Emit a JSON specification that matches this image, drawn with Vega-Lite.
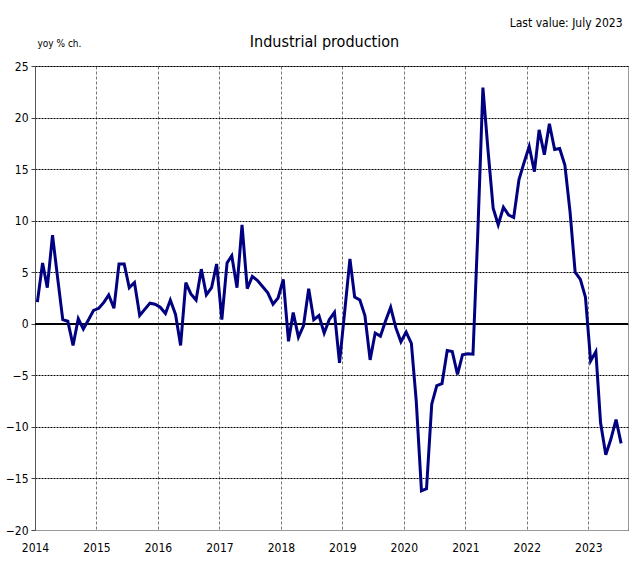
{
  "$schema": "https://vega.github.io/schema/vega-lite/v6.json",
  "width": 593,
  "height": 464,
  "autosize": {"type": "none"},
  "padding": {"left": 35, "top": 66, "right": 4, "bottom": 32},
  "background": "white",
  "title": {
    "text": "Industrial production",
    "font": "DejaVu Sans Condensed",
    "fontSize": 16,
    "fontWeight": "normal",
    "color": "#000",
    "anchor": "middle",
    "dx": -7,
    "offset": 0,
    "dy": 34
  },
  "config": {
    "view": {"stroke": "#999", "strokeWidth": 1},
    "font": "DejaVu Sans Condensed"
  },
  "data": {
    "values": [
      {"date": "2014-01-15", "value": 2.1}, {"date": "2014-02-15", "value": 5.9}, {"date": "2014-03-15", "value": 3.5}, {"date": "2014-04-15", "value": 8.6}, {"date": "2014-05-15", "value": 4.5}, {"date": "2014-06-15", "value": 0.4}, {"date": "2014-07-15", "value": 0.25}, {"date": "2014-08-15", "value": -2.1}, {"date": "2014-09-15", "value": 0.5}, {"date": "2014-10-15", "value": -0.5}, {"date": "2014-11-15", "value": 0.4}, {"date": "2014-12-15", "value": 1.3},
      {"date": "2015-01-15", "value": 1.5}, {"date": "2015-02-15", "value": 2.1}, {"date": "2015-03-15", "value": 2.8}, {"date": "2015-04-15", "value": 1.5}, {"date": "2015-05-15", "value": 5.8}, {"date": "2015-06-15", "value": 5.8}, {"date": "2015-07-15", "value": 3.5}, {"date": "2015-08-15", "value": 4.0}, {"date": "2015-09-15", "value": 0.8}, {"date": "2015-10-15", "value": 1.4}, {"date": "2015-11-15", "value": 2.0}, {"date": "2015-12-15", "value": 1.9},
      {"date": "2016-01-15", "value": 1.6}, {"date": "2016-02-15", "value": 1.0}, {"date": "2016-03-15", "value": 2.3}, {"date": "2016-04-15", "value": 0.9}, {"date": "2016-05-15", "value": -2.1}, {"date": "2016-06-15", "value": 4.0}, {"date": "2016-07-15", "value": 2.9}, {"date": "2016-08-15", "value": 2.3}, {"date": "2016-09-15", "value": 5.3}, {"date": "2016-10-15", "value": 2.8}, {"date": "2016-11-15", "value": 3.5}, {"date": "2016-12-15", "value": 5.8},
      {"date": "2017-01-15", "value": 0.4}, {"date": "2017-02-15", "value": 5.9}, {"date": "2017-03-15", "value": 6.6}, {"date": "2017-04-15", "value": 3.5}, {"date": "2017-05-15", "value": 9.6}, {"date": "2017-06-15", "value": 3.4}, {"date": "2017-07-15", "value": 4.6}, {"date": "2017-08-15", "value": 4.2}, {"date": "2017-09-15", "value": 3.6}, {"date": "2017-10-15", "value": 3.0}, {"date": "2017-11-15", "value": 1.9}, {"date": "2017-12-15", "value": 2.5},
      {"date": "2018-01-15", "value": 4.3}, {"date": "2018-02-15", "value": -1.7}, {"date": "2018-03-15", "value": 1.1}, {"date": "2018-04-15", "value": -1.3}, {"date": "2018-05-15", "value": -0.2}, {"date": "2018-06-15", "value": 3.4}, {"date": "2018-07-15", "value": 0.4}, {"date": "2018-08-15", "value": 0.8}, {"date": "2018-09-15", "value": -0.9}, {"date": "2018-10-15", "value": 0.4}, {"date": "2018-11-15", "value": 1.1}, {"date": "2018-12-15", "value": -3.8},
      {"date": "2019-01-15", "value": 1.2}, {"date": "2019-02-15", "value": 6.3}, {"date": "2019-03-15", "value": 2.6}, {"date": "2019-04-15", "value": 2.3}, {"date": "2019-05-15", "value": 0.8}, {"date": "2019-06-15", "value": -3.5}, {"date": "2019-07-15", "value": -0.9}, {"date": "2019-08-15", "value": -1.2}, {"date": "2019-09-15", "value": 0.3}, {"date": "2019-10-15", "value": 1.6}, {"date": "2019-11-15", "value": -0.4}, {"date": "2019-12-15", "value": -1.75},
      {"date": "2020-01-15", "value": -0.8}, {"date": "2020-02-15", "value": -1.9}, {"date": "2020-03-15", "value": -7.5}, {"date": "2020-04-15", "value": -16.2}, {"date": "2020-05-15", "value": -16.0}, {"date": "2020-06-15", "value": -7.8}, {"date": "2020-07-15", "value": -6.0}, {"date": "2020-08-15", "value": -5.8}, {"date": "2020-09-15", "value": -2.6}, {"date": "2020-10-15", "value": -2.7}, {"date": "2020-11-15", "value": -4.9}, {"date": "2020-12-15", "value": -3.0},
      {"date": "2021-01-15", "value": -2.9}, {"date": "2021-02-15", "value": -2.95}, {"date": "2021-03-15", "value": 8.5}, {"date": "2021-04-15", "value": 22.9}, {"date": "2021-05-15", "value": 16.9}, {"date": "2021-06-15", "value": 11.2}, {"date": "2021-07-15", "value": 9.6}, {"date": "2021-08-15", "value": 11.3}, {"date": "2021-09-15", "value": 10.55}, {"date": "2021-10-15", "value": 10.3}, {"date": "2021-11-15", "value": 13.95}, {"date": "2021-12-15", "value": 15.6},
      {"date": "2022-01-15", "value": 17.2}, {"date": "2022-02-15", "value": 14.75}, {"date": "2022-03-15", "value": 18.8}, {"date": "2022-04-15", "value": 16.4}, {"date": "2022-05-15", "value": 19.4}, {"date": "2022-06-15", "value": 16.9}, {"date": "2022-07-15", "value": 17.0}, {"date": "2022-08-15", "value": 15.4}, {"date": "2022-09-15", "value": 10.8}, {"date": "2022-10-15", "value": 5.0}, {"date": "2022-11-15", "value": 4.3}, {"date": "2022-12-15", "value": 2.6},
      {"date": "2023-01-15", "value": -3.6}, {"date": "2023-02-15", "value": -2.7}, {"date": "2023-03-15", "value": -9.6}, {"date": "2023-04-15", "value": -12.7}, {"date": "2023-05-15", "value": -11.2}, {"date": "2023-06-15", "value": -9.3}, {"date": "2023-07-15", "value": -11.6}
    ]
  },
  "encoding": {
    "x": {
      "field": "date",
      "type": "temporal",
      "scale": {"type": "utc", "domain": ["2014-01-01", "2023-08-25"]},
      "axis": {
        "values": ["2014-01-01", "2015-01-01", "2016-01-01", "2017-01-01", "2018-01-01", "2019-01-01", "2020-01-01", "2021-01-01", "2022-01-01", "2023-01-01"],
        "format": "%Y",
        "formatType": "utc",
        "labelFont": "DejaVu Sans Condensed",
        "labelFontSize": 12,
        "labelColor": "#000",
        "labelPadding": 12,
        "labelFlush": false,
        "ticks": false,
        "domainColor": "#999",
        "grid": true,
        "gridColor": "#777",
        "gridDash": [3, 2],
        "gridWidth": 1,
        "title": "Last value: July 2023",
        "titleFont": "DejaVu Sans Condensed",
        "titleFontSize": 12,
        "titleFontWeight": "normal",
        "titleColor": "#000",
        "titleAlign": "right",
        "titleAnchor": null,
        "titleX": 587,
        "titleY": -508,
        "titleBaseline": "middle"
      }
    },
    "y": {
      "field": "value",
      "type": "quantitative",
      "scale": {"domain": [-20, 25], "nice": false, "zero": false},
      "axis": {
        "values": [-20, -15, -10, -5, 0, 5, 10, 15, 20, 25],
        "labelFont": "DejaVu Sans Condensed",
        "labelFontSize": 12,
        "labelColor": "#000",
        "labelPadding": 3,
        "tickSize": 4,
        "tickColor": "#444",
        "domainColor": "#555",
        "grid": true,
        "gridColor": "#000",
        "gridDash": [2, 1],
        "gridWidth": 1,
        "title": "yoy % ch.",
        "titleFont": "DejaVu Sans Condensed",
        "titleFontSize": 10,
        "titleFontWeight": "normal",
        "titleColor": "#000",
        "titleAngle": 0,
        "titleAlign": "left",
        "titleBaseline": "middle",
        "titleX": 2,
        "titleY": -23
      }
    }
  },
  "layer": [
    {
      "mark": {"type": "rule", "color": "#000", "strokeWidth": 1},
      "encoding": {"y": {"datum": 0}, "x": null}
    },
    {
      "mark": {"type": "line", "color": "#000080", "strokeWidth": 3, "strokeJoin": "miter"}
    }
  ]
}
